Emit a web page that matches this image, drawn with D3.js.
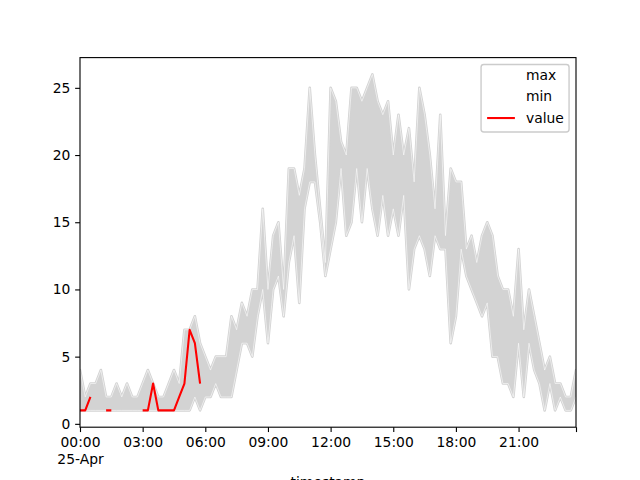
<!DOCTYPE html>
<html>
<head>
<meta charset="utf-8">
<script src="https://cdn.jsdelivr.net/npm/d3@7"></script>
<style>
  html, body { margin: 0; padding: 0; background: #fff; }
  svg { display: block; }
  text { font-family: "DejaVu Sans", sans-serif; }
</style>
</head>
<body>
<svg id="chart" width="640" height="480"></svg>
<script>
// ---- data (15-minute steps from 25-Apr 00:00) ----
const startTime = "2023-04-25T00:00:00";
const stepMinutes = 15;
const maxValues = [4,2,3,3,4,2,2,3,2,3,2,2,3,4,3,2,2,3,4,3,7,7,8,6,5,4,5,5,5,8,7,9,8,10,10,16,10,14,15,10,19,19,17,19,25,20,16,12,25,24,21,20,25,25,24,25,26,24,23,24,20,23,20,22,18,25,23,20,16,23,14,19,18,18,13,14,12,14,15,14,11,10,10,8,13,7,10,8,6,4,5,3,3,2,2,4];
const minValues = [1,1,1,1,1,1,1,1,1,1,1,1,1,1,1,1,1,1,1,1,1,1,2,1,2,2,3,2,2,2,4,6,6,5,8,10,6,10,11,8,12,14,9,16,18,18,15,11,13,15,19,14,15,19,15,19,16,14,17,14,16,14,17,10,13,14,13,11,14,13,13,6,8,13,11,10,9,8,9,5,5,3,3,2,6,2,6,4,3,1,3,1,2,1,1,2];
const valueValues = [1,1,2,null,null,1,1,null,null,null,null,null,1,1,3,1,1,1,1,2,3,7,6,3];
const yTicks = [0,5,10,15,20,25];
const xTickHours = [0,3,6,9,12,15,18,21];
const dateLabel = "25-Apr";
const legendLabels = ["max","min","value"];
const legendColors = ["#ffffff","#ffffff","#ff0000"];
const xLabel = "timestamp";

// ---- build rows ----
const t0 = new Date(startTime);
const times = maxValues.map((_, i) => new Date(t0.getTime() + i * stepMinutes * 60000));
const rows = times.map((t, i) => ({t, max: maxValues[i], min: minValues[i], value: i < valueValues.length ? valueValues[i] : null}));

// ---- layout (matplotlib defaults, dpi 100) ----
const pt = 100/72;
const L = 80, R = 576, T = 57.6, B = 427.2;
const fs = 10*pt;

const svg = d3.select("#chart");
const x = d3.scaleTime().domain([times[0], times[times.length-1]]).range([L, R]);
const y = d3.scaleLinear().domain([-0.25, 27.25]).range([B, T]);

svg.append("defs").append("clipPath").attr("id","clip")
  .append("rect").attr("x",L).attr("y",T).attr("width",R-L).attr("height",B-T);

const g = svg.append("g").attr("clip-path","url(#clip)");

g.append("path").datum(rows)
  .attr("d", d3.area().x(d => x(d.t)).y0(d => y(d.min)).y1(d => y(d.max)))
  .attr("fill", "#d3d3d3").attr("stroke","#d3d3d3").attr("stroke-width",2.6).attr("stroke-linejoin","round");

const line = key => d3.line().defined(d => d[key] != null).x(d => x(d.t)).y(d => y(d[key]));
g.append("path").datum(rows).attr("d", line("max")).attr("fill","none").attr("stroke", legendColors[0]).attr("stroke-opacity",0.55).attr("stroke-width",1).attr("stroke-linejoin","round");
g.append("path").datum(rows).attr("d", line("min")).attr("fill","none").attr("stroke", legendColors[1]).attr("stroke-opacity",0.55).attr("stroke-width",1).attr("stroke-linejoin","round");
g.append("path").datum(rows).attr("d", line("value")).attr("fill","none").attr("stroke", legendColors[2]).attr("stroke-width",1.5*pt).attr("stroke-linejoin","round").attr("stroke-linecap","butt");

// ---- axes ----
const tickLen = 3.5*pt, tickPad = 3.5*pt;
const xTickDates = xTickHours.map(h => new Date(t0.getTime() + h*3600000));
const xAxis = d3.axisBottom(x)
  .tickValues(xTickDates.concat([times[times.length-1]]))
  .tickFormat((d, i) => i < xTickDates.length ? d3.timeFormat("%H:%M")(d) : "")
  .tickSize(tickLen).tickPadding(tickPad).tickSizeOuter(0);
const gx = svg.append("g").attr("transform", `translate(0,${B})`).call(xAxis);
gx.select(".domain").remove();
gx.selectAll(".tick line").attr("stroke","#000").attr("stroke-width",0.8*pt);
gx.selectAll(".tick text").attr("font-size", fs).attr("fill","#000").attr("font-family","DejaVu Sans").attr("dy","0.76em");
gx.selectAll(".tick text").filter((d,i) => i === 0).each(function() {
  const t = d3.select(this);
  const txt = t.text();
  t.text(null);
  t.append("tspan").attr("x",0).text(txt);
  t.append("tspan").attr("x",0).attr("dy", 1.2*fs).text(dateLabel);
});

const yAxis = d3.axisLeft(y).tickValues(yTicks).tickFormat(d3.format("d"))
  .tickSize(tickLen).tickPadding(tickPad).tickSizeOuter(0);
const gy = svg.append("g").attr("transform", `translate(${L},0)`).call(yAxis);
gy.select(".domain").remove();
gy.selectAll(".tick line").attr("stroke","#000").attr("stroke-width",0.8*pt);
gy.selectAll(".tick text").attr("font-size", fs).attr("fill","#000").attr("font-family","DejaVu Sans");

// spines
svg.append("rect").attr("x",L).attr("y",T).attr("width",R-L).attr("height",B-T)
  .attr("fill","none").attr("stroke","#000").attr("stroke-width",0.8*pt);

// x label (cut by the bottom edge, as in the reference)
svg.append("text").attr("x",(L+R)/2).attr("y", B + tickLen + tickPad + 2.2*fs + 4*pt + 0.76*fs*1.3)
  .attr("text-anchor","middle").attr("font-size",fs).attr("fill","#000").text(xLabel);

// ---- legend ----
const legW = 88, legH = 67.5;
const legX = R - 0.5*fs - legW, legY = T + 0.5*fs;
const leg = svg.append("g");
leg.append("rect").attr("x",legX).attr("y",legY).attr("width",legW).attr("height",legH)
  .attr("rx",0.2*fs).attr("ry",0.2*fs)
  .attr("fill","#fff").attr("fill-opacity",0.8).attr("stroke","#cccccc").attr("stroke-width",1*pt);
const rowH = 21.5;
legendLabels.forEach((lab, i) => {
  const cy = legY + 10.5 + i*rowH;
  leg.append("line").attr("x1", legX + 0.4*fs + 0.5).attr("x2", legX + 0.4*fs + 2*fs + 0.5)
    .attr("y1", cy).attr("y2", cy).attr("stroke", legendColors[i]).attr("stroke-width",1.5*pt);
  leg.append("text").attr("x", legX + 0.4*fs + 2.8*fs + 0.5).attr("y", cy).attr("dy","0.35em")
    .attr("font-size",fs).attr("fill","#000").text(lab);
});
</script>
</body>
</html>
